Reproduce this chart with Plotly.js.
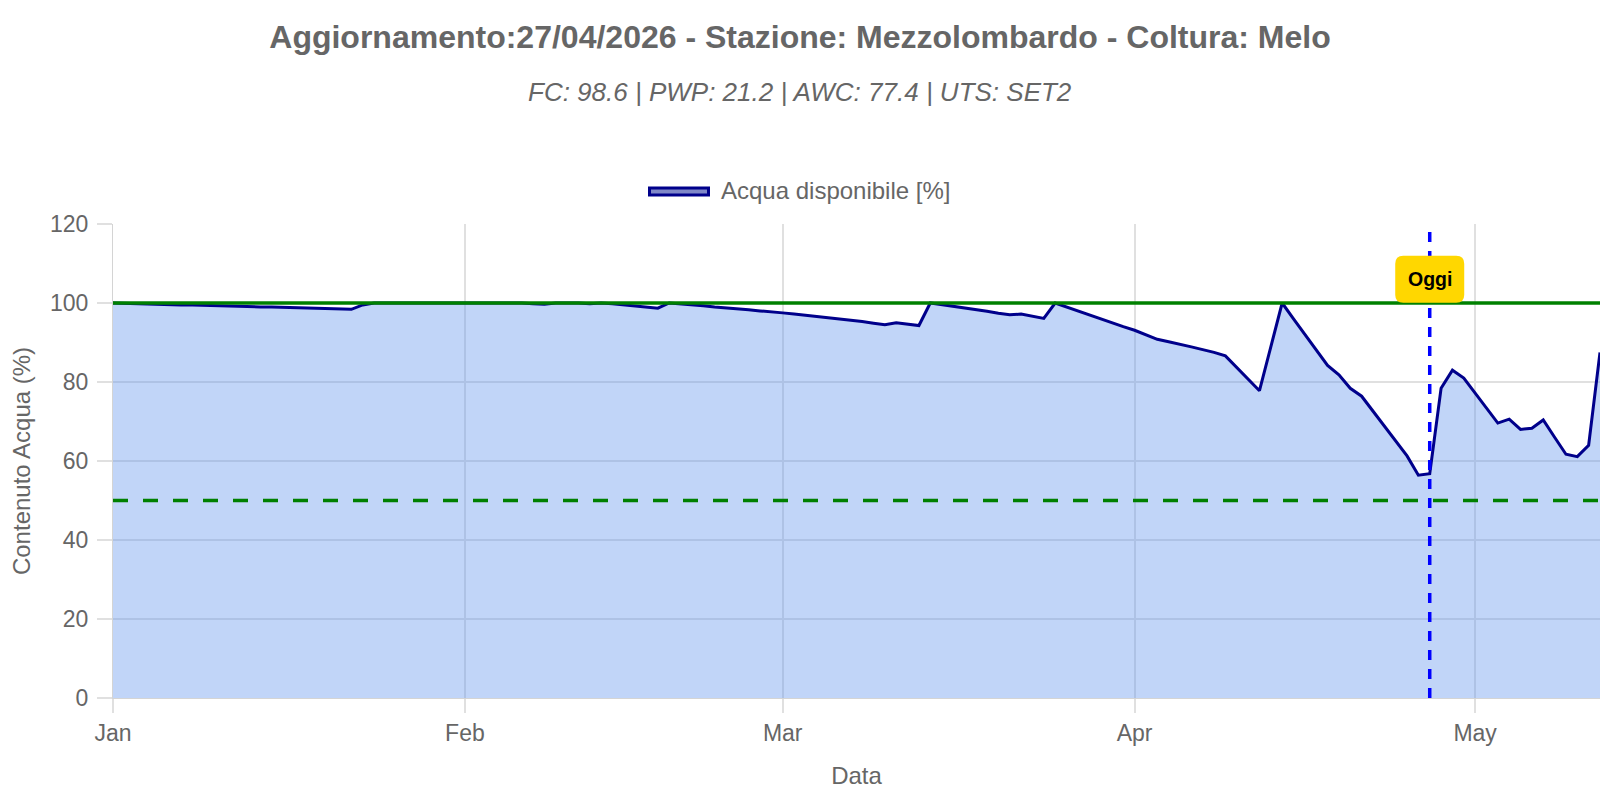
<!DOCTYPE html>
<html>
<head>
<meta charset="utf-8">
<script src="https://cdn.plot.ly/plotly-3.0.1.min.js"></script>
<style>html,body{margin:0;padding:0;background:#fff;}#chart{width:1600px;height:800px;}</style>
</head>
<body>
<div id="chart"></div>
<script>
var dates = [
 "2026-01-01","2026-01-02","2026-01-03","2026-01-04","2026-01-05","2026-01-06","2026-01-07","2026-01-08","2026-01-09","2026-01-10",
 "2026-01-11","2026-01-12","2026-01-13","2026-01-14","2026-01-15","2026-01-16","2026-01-17","2026-01-18","2026-01-19","2026-01-20",
 "2026-01-21","2026-01-22","2026-01-23","2026-01-24","2026-01-25","2026-01-26","2026-01-27","2026-01-28","2026-01-29","2026-01-30","2026-01-31",
 "2026-02-01","2026-02-02","2026-02-03","2026-02-04","2026-02-05","2026-02-06","2026-02-07","2026-02-08","2026-02-09","2026-02-10",
 "2026-02-11","2026-02-12","2026-02-13","2026-02-14","2026-02-15","2026-02-16","2026-02-17","2026-02-18","2026-02-19","2026-02-20",
 "2026-02-21","2026-02-22","2026-02-23","2026-02-24","2026-02-25","2026-02-26","2026-02-27","2026-02-28",
 "2026-03-01","2026-03-02","2026-03-03","2026-03-04","2026-03-05","2026-03-06","2026-03-07","2026-03-08","2026-03-09","2026-03-10",
 "2026-03-11","2026-03-12","2026-03-13","2026-03-14","2026-03-15","2026-03-16","2026-03-17","2026-03-18","2026-03-19","2026-03-20",
 "2026-03-21","2026-03-22","2026-03-23","2026-03-24","2026-03-25","2026-03-26","2026-03-27","2026-03-28","2026-03-29","2026-03-30","2026-03-31",
 "2026-04-01","2026-04-02","2026-04-03","2026-04-04","2026-04-05","2026-04-06","2026-04-07","2026-04-08","2026-04-09","2026-04-10",
 "2026-04-11","2026-04-12","2026-04-13","2026-04-14","2026-04-15","2026-04-16","2026-04-17","2026-04-18","2026-04-19","2026-04-20",
 "2026-04-21","2026-04-22","2026-04-23","2026-04-24","2026-04-25","2026-04-26","2026-04-27","2026-04-28","2026-04-29","2026-04-30",
 "2026-05-01","2026-05-02","2026-05-03","2026-05-04","2026-05-05","2026-05-06","2026-05-07","2026-05-08","2026-05-09","2026-05-10","2026-05-11","2026-05-12"
];
var acquaDisponibile = [
 100.0,99.9,99.9,99.8,99.7,99.6,99.5,99.5,99.4,99.3,99.3,99.2,99.1,99.0,99.0,98.9,98.8,98.7,98.7,98.6,98.5,98.4,99.5,100,100,100,100,100,100,100,100,
 100,100,100,100,100,100,99.8,99.7,100,100,100,99.8,100,99.8,99.5,99.3,99.0,98.7,100,99.8,99.5,99.3,99.0,98.8,98.5,98.3,98.0,97.8,
 97.5,97.2,96.9,96.6,96.3,96.0,95.6,95.3,94.9,94.5,95.0,94.7,94.3,100,99.6,99.2,98.7,98.3,97.9,97.4,97.0,97.2,96.6,96.1,100,99.0,98.0,97.0,95.8,94.9,94.0,
 93.1,92.0,90.8,90.2,89.6,88.9,88.2,87.5,86.6,83.7,80.8,77.8,88.9,100,96.0,92.0,88.0,84.2,81.8,78.4,76.4,72.6,68.9,65.2,61.3,56.4,56.8,78.4,83.0,81.0,
 77.2,73.4,69.6,70.6,68.0,68.3,70.4,66.0,61.7,61.1,64.0,87.5
];
var xRange = ["2026-01-01", "2026-05-12"];
var yTicks = [0, 20, 40, 60, 80, 100, 120];
var fieldCapacityLevel = 100;
var thresholdLevel = 50;
var todayDate = "2026-04-27";
var todayLabel = "Oggi";
var todayLabelY = 106;
var titleText = "Aggiornamento:27/04/2026 - Stazione: Mezzolombardo - Coltura: Melo";
var subtitleText = "FC: 98.6 | PWP: 21.2 | AWC: 77.4 | UTS: SET2";
var seriesName = "Acqua disponibile [%]";

var FONT = "Liberation Sans, Arial, Helvetica, sans-serif";
var GREY = "#666666";

var trace = {
  x: dates, y: acquaDisponibile, type: "scatter", mode: "lines",
  name: seriesName, showlegend: false,
  line: {color: "#00008b", width: 3, shape: "linear"},
  fill: "tozeroy", fillcolor: "rgba(100,149,237,0.4)",
  hoverinfo: "x+y"
};

var r = 8, hw = 34.5, hh = 23.5;
var boxPath = "M" + (-hw + r) + "," + (-hh) + " L" + (hw - r) + "," + (-hh) +
  " Q" + hw + "," + (-hh) + " " + hw + "," + (-hh + r) +
  " L" + hw + "," + (hh - r) + " Q" + hw + "," + hh + " " + (hw - r) + "," + hh +
  " L" + (-hw + r) + "," + hh + " Q" + (-hw) + "," + hh + " " + (-hw) + "," + (hh - r) +
  " L" + (-hw) + "," + (-hh + r) + " Q" + (-hw) + "," + (-hh) + " " + (-hw + r) + "," + (-hh) + " Z";

// pixel -> paper helpers for the legend placed above the plot (plot area 113..1600 x 224..698)
function px(xp) { return (xp - 113) / 1487; }
function py(yp) { return (698 - yp) / 474; }

var layout = {
  width: 1600, height: 800,
  paper_bgcolor: "#ffffff", plot_bgcolor: "#ffffff",
  margin: {l: 113, r: 0, t: 224, b: 102, pad: 0},
  font: {family: FONT, color: GREY},
  title: {
    text: "<b>" + titleText + "</b>",
    font: {family: FONT, size: 32, color: GREY},
    x: 0.5, xref: "container", xanchor: "center",
    y: 1 - 37 / 800, yref: "container", yanchor: "middle"
  },
  showlegend: false,
  xaxis: {
    type: "date", range: xRange,
    dtick: "M1", tick0: "2026-01-01", tickformat: "%b",
    showgrid: true, gridcolor: "#e0e0e0", gridwidth: 1.5,
    showline: true, linecolor: "#d4d4d4", linewidth: 1,
    ticks: "outside", ticklen: 14, tickcolor: "#e0e0e0", tickwidth: 1.5,
    tickfont: {family: FONT, size: 23, color: GREY},
    zeroline: false, fixedrange: true,
    title: {text: "Data", font: {family: FONT, size: 24, color: GREY}, standoff: 22}
  },
  yaxis: {
    range: [0, 120], tickvals: yTicks,
    showgrid: true, gridcolor: "#e0e0e0", gridwidth: 1.5,
    showline: true, linecolor: "#d4d4d4", linewidth: 1,
    ticks: "outside", ticklen: 15, tickcolor: "#e0e0e0", tickwidth: 1.5,
    tickfont: {family: FONT, size: 23, color: GREY},
    ticklabelstandoff: 4,
    zeroline: false, fixedrange: true,
    title: {text: "Contenuto Acqua (%)", font: {family: FONT, size: 24, color: GREY}, standoff: 12}
  },
  shapes: [
    {type: "line", xref: "paper", x0: 0, x1: 1, yref: "y", y0: fieldCapacityLevel, y1: fieldCapacityLevel,
     line: {color: "#008000", width: 3.5}},
    {type: "line", xref: "paper", x0: 0, x1: 1, yref: "y", y0: thresholdLevel, y1: thresholdLevel,
     line: {color: "#008000", width: 3.5, dash: "15px,15px"}},
    {type: "line", xref: "x", x0: todayDate, x1: todayDate, yref: "paper", y0: 0, y1: 1,
     line: {color: "#0000ff", width: 3.5, dash: "10px,9px"}},
    {type: "path", xref: "x", yref: "y", xsizemode: "pixel", ysizemode: "pixel",
     xanchor: todayDate, yanchor: todayLabelY, path: boxPath,
     fillcolor: "#ffd700", line: {width: 0}},
    // legend symbol (box with border, like the original)
    {type: "rect", xref: "paper", yref: "paper",
     x0: px(649.5), x1: px(708.5), y0: py(195), y1: py(188),
     fillcolor: "#8088c8", line: {color: "#00008b", width: 3}}
  ],
  annotations: [
    {text: subtitleText, xref: "paper", x: px(800), xanchor: "center",
     yref: "paper", y: py(92), yanchor: "middle", showarrow: false,
     font: {family: FONT, size: 26, color: GREY, style: "italic"}},
    {text: seriesName, xref: "paper", x: px(719), xanchor: "left",
     yref: "paper", y: py(190), yanchor: "middle", showarrow: false,
     font: {family: FONT, size: 24, color: GREY}},
    {text: "<b>" + todayLabel + "</b>", xref: "x", x: todayDate, yref: "y", y: todayLabelY,
     xanchor: "center", yanchor: "middle", showarrow: false,
     font: {family: FONT, size: 19.5, color: "#000000"}}
  ]
};

Plotly.newPlot("chart", [trace], layout, {displayModeBar: false, responsive: false});
</script>
</body>
</html>
